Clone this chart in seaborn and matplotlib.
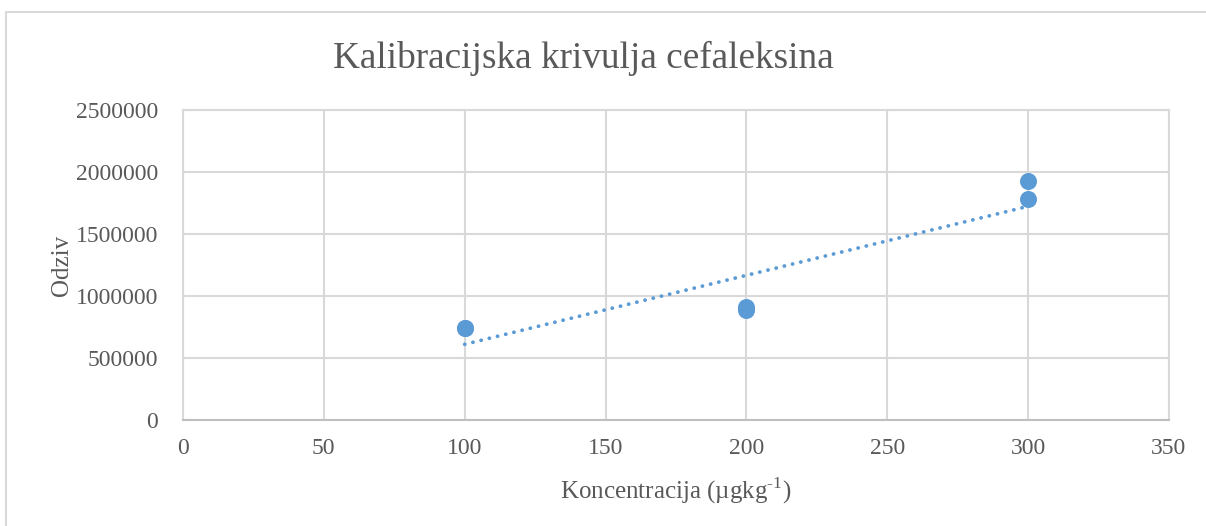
import numpy as np
import pandas as pd
import matplotlib
matplotlib.use("Agg")
import matplotlib.pyplot as plt
import seaborn as sns
from matplotlib.patches import Rectangle

# Calibration data: concentration (µg/kg) vs detector response
koncentracija = [100, 100, 200, 200, 300, 300]
odziv = [740000, 745000, 890000, 915000, 1785000, 1925000]

x_ticks = [0, 50, 100, 150, 200, 250, 300, 350]
y_ticks = [0, 500000, 1000000, 1500000, 2000000, 2500000]

title = "Kalibracijska krivulja cefaleksina"
x_label = "Koncentracija (µgkg$^{\\text{-1}}$)"
y_label = "Odziv"

df = pd.DataFrame({"Koncentracija": koncentracija, "Odziv": odziv})

sns.set_theme(style="white")
plt.rcParams["font.family"] = ["Liberation Serif", "DejaVu Serif"]
plt.rcParams["mathtext.fontset"] = "custom"
plt.rcParams["mathtext.rm"] = "Liberation Serif"

text_col = "#595959"
grid_col = "#d9d9d9"
point_col = "#5b9bd5"

fig = plt.figure(figsize=(12.06, 5.26), dpi=100)
fig.patch.set_facecolor("white")
fig.add_artist(Rectangle((6 / 1206, -0.05), 1.1, 1 - 12 / 526 + 0.05,
                         transform=fig.transFigure, fill=False,
                         edgecolor=grid_col, linewidth=1.5))

ax = fig.add_axes([0.1517, 0.2015, 0.8176, 0.5894])

# Linear least-squares trendline over the data range
slope, intercept = np.polyfit(koncentracija, odziv, 1)
xs = np.array([min(koncentracija), max(koncentracija)])
ax.plot(xs, slope * xs + intercept, linestyle=(0, (0.05, 2.2)), linewidth=2.7,
        color=point_col, dash_capstyle="round", solid_capstyle="round", zorder=2)

sns.scatterplot(data=df, x="Koncentracija", y="Odziv", ax=ax, s=150,
                color=point_col, edgecolor=point_col, linewidth=0, zorder=3)

ax.set_xlim(0, 350)
ax.set_ylim(0, 2500000)
ax.set_xticks(x_ticks)
ax.set_yticks(y_ticks)
ax.set_xticklabels([str(v) for v in x_ticks])
ax.set_yticklabels([str(v) for v in y_ticks])
ax.grid(True, color=grid_col, linewidth=1.5)
ax.set_axisbelow(True)
for side in ["top", "right", "left"]:
    ax.spines[side].set_color(grid_col)
    ax.spines[side].set_linewidth(1.5)
ax.spines["bottom"].set_color("#bfbfbf")
ax.spines["bottom"].set_linewidth(1.5)
ax.tick_params(axis="both", length=0, labelsize=17, labelcolor=text_col)
ax.tick_params(axis="x", pad=13)
ax.tick_params(axis="y", pad=18)

ax.set_xlabel(x_label, fontsize=18, color=text_col, labelpad=12)
ax.set_ylabel(y_label, fontsize=18, color=text_col, labelpad=2)
fig.text(583 / 1206, 1 - 58 / 526, title, fontsize=26.8, color=text_col,
         ha="center", va="center")

fig.savefig("out.png", dpi=100, facecolor="white")
